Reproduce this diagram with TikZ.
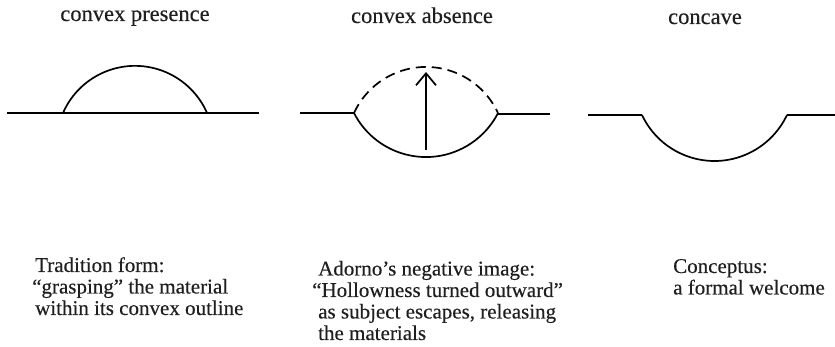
\documentclass[tikz,border=0pt]{standalone}
\usepackage{fontspec}
\setmainfont[FakeBold=0.3]{Liberation Serif}
\usetikzlibrary{arrows.meta}
\tikzset{
  shape line/.style={line width=1.7pt, black},
  title/.style={anchor=base, font=\fontsize{22.5}{26}\selectfont, text=black!88, inner sep=0pt},
  caption/.style={anchor=base west, align=left, inner sep=0pt, text=black!88,
    font=\fontsize{21}{21.5}\selectfont},
}
\begin{document}
\begin{tikzpicture}[x=1pt,y=1pt]
\useasboundingbox (0,0) rectangle (835,347);
% titles
\node[title] (t1) at (135,326) {convex presence};
\node[title] (t2) at (422,324) {convex absence};
\node[title] (t3) at (705,323) {concave};
% panel 1
\coordinate (p1l) at (7,234);
\coordinate (p1r) at (259,234);
\coordinate (p1a) at (63,234);
\draw[shape line] (p1l) -- (p1r);
\draw[shape line] (p1a) arc[start angle=156.4, end angle=23.6, radius=78.6];
% panel 2
\coordinate (p2l) at (300,234);
\coordinate (p2a) at (354,234);
\coordinate (p2b) at (498,233);
\coordinate (p2r) at (550,233);
\draw[shape line] (p2l) -- (p2a);
\draw[shape line] (p2b) -- (p2r);
\draw[shape line] (p2a) arc[start angle=207.1, end angle=332.9, radius=80.9];
\draw[shape line, dash pattern=on 10pt off 6pt] (p2a) arc[start angle=155.2, end angle=24.8, radius=79.3];
\coordinate (arrS) at (426,197);
\coordinate (arrE) at (426,275);
\draw[shape line, -{Straight Barb[length=12pt,width=20pt,line width=1.7pt]}] (arrS) -- (arrE);
% panel 3
\coordinate (p3l) at (588,232);
\coordinate (p3a) at (642,232);
\coordinate (p3b) at (787,232);
\coordinate (p3r) at (835,232);
\draw[shape line] (p3l) -- (p3a);
\draw[shape line] (p3b) -- (p3r);
\draw[shape line] (p3a) arc[start angle=205.2, end angle=334.8, radius=80.1];
% captions
\node[caption] (c1) at (35,32) {Tradition form:\\\hspace{-3pt}“grasping” the material\\within its convex outline};
\node[caption] (c2) at (318,7) {Adorno’s negative image:\\\hspace{-6pt}“Hollowness turned outward”\\as subject escapes, releasing\\the materials};
\node[caption] (c3) at (673,52.5) {Conceptus:\\a formal welcome};
\end{tikzpicture}
\end{document}
